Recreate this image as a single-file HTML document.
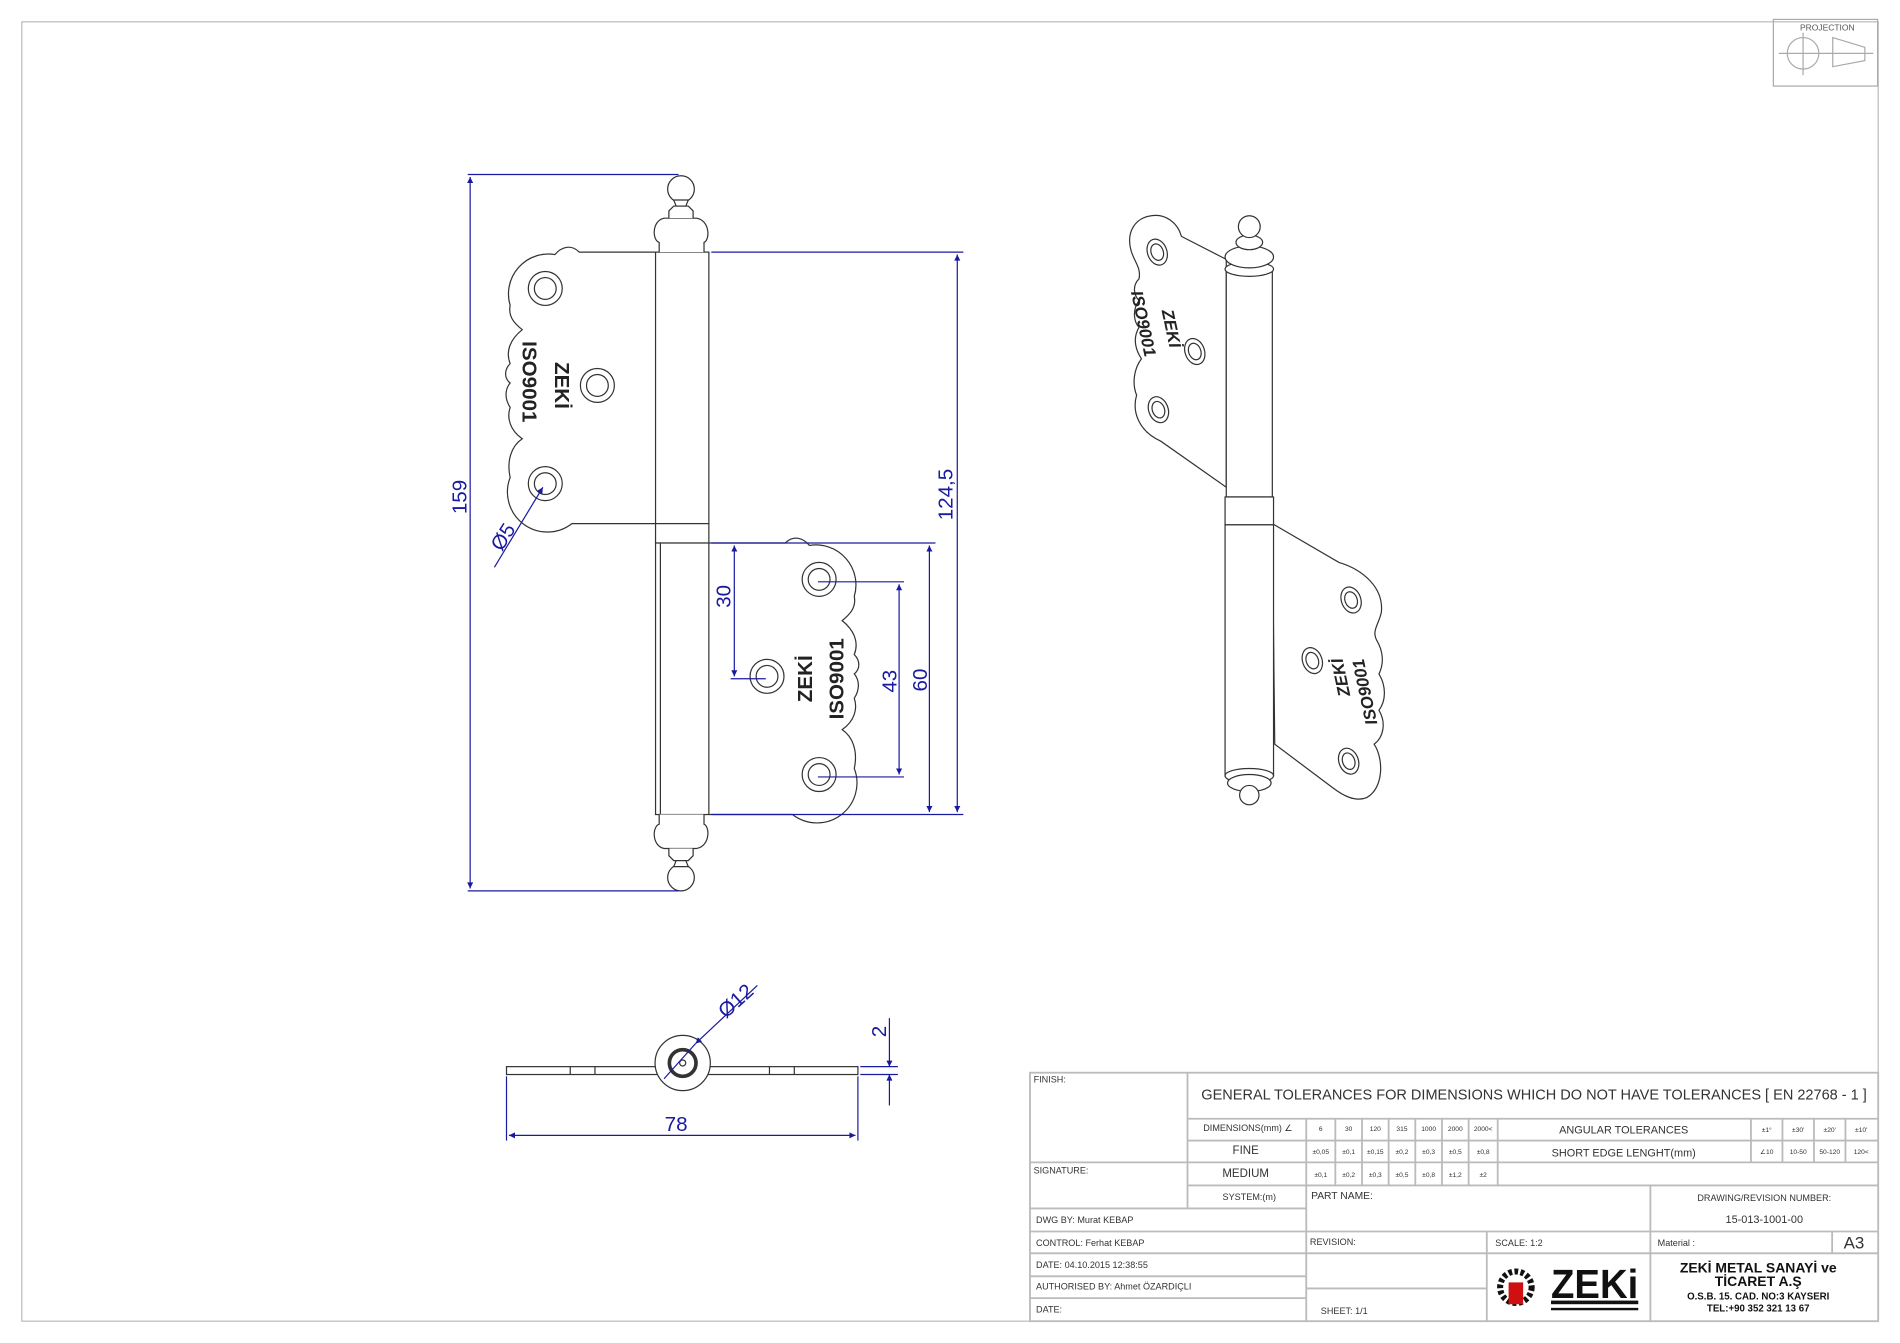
<!DOCTYPE html>
<html><head><meta charset="utf-8"><style>
html,body{margin:0;padding:0;background:#fff;}
svg{display:block;}
text{font-family:"Liberation Sans",sans-serif;}
</style></head><body>
<svg width="1900" height="1343" viewBox="0 0 1568 1108" preserveAspectRatio="none" xmlns="http://www.w3.org/2000/svg">
<defs>
<marker id="a" viewBox="0 0 10 10" refX="10" refY="5" markerWidth="9" markerHeight="5" orient="auto-start-reverse" markerUnits="userSpaceOnUse"><path d="M0,0 L10,5 L0,10 z" fill="#1a1aa0"/></marker>
<g id="leaf">
<path d="M541,208 L478,208 C471,201 463,204 458,210 A33,33 0 0 0 421,252 C419,262 426,268 431,272 C421,280 417,290 421,300 C416,305 416,312 421,316 C416,322 417,330 421,336 C418,345 421,355 431,362 C422,368 418,380 421,394 A33,33 0 0 0 472,432 L541,432" fill="#fff" stroke="#333" stroke-width="1"/>
<circle cx="450" cy="238" r="14" fill="none" stroke="#333"/><circle cx="450" cy="238" r="9" fill="none" stroke="#333"/>
<circle cx="493" cy="318" r="14" fill="none" stroke="#333"/><circle cx="493" cy="318" r="9" fill="none" stroke="#333"/>
<circle cx="450" cy="399" r="14" fill="none" stroke="#333"/><circle cx="450" cy="399" r="9" fill="none" stroke="#333"/>
</g>
</defs>
<rect x="0" y="0" width="1568" height="1108" fill="#fff"/>
<rect x="18" y="18" width="1532" height="1072" fill="none" stroke="#bbb" stroke-width="1"/>
<!-- projection -->
<rect x="1463.5" y="16" width="86" height="55" fill="none" stroke="#aaa"/>
<text x="1508" y="25" font-size="7" text-anchor="middle" fill="#555">PROJECTION</text>
<circle cx="1488" cy="44" r="13" fill="none" stroke="#aaa"/>
<line x1="1468" y1="44" x2="1509" y2="44" stroke="#aaa"/><line x1="1488" y1="27" x2="1488" y2="62" stroke="#aaa"/>
<path d="M1512.5,31 L1539,39 L1539,50 L1512.5,55 Z" fill="none" stroke="#aaa"/><line x1="1508" y1="44" x2="1546" y2="44" stroke="#aaa"/>

<!-- front view -->
<use href="#leaf"/>
<use href="#leaf" transform="translate(1126,240) scale(-1,1)"/>
<text transform="translate(431,315) rotate(90)" font-size="17" font-weight="bold" text-anchor="middle" fill="#222">ISO9001</text>
<text transform="translate(458,318) rotate(90)" font-size="17" font-weight="bold" text-anchor="middle" fill="#222">ZEKİ</text>
<text transform="translate(670,560) rotate(-90)" font-size="17" font-weight="bold" text-anchor="middle" fill="#222">ZEKİ</text>
<text transform="translate(696,560) rotate(-90)" font-size="17" font-weight="bold" text-anchor="middle" fill="#222">ISO9001</text>
<g fill="#fff" stroke="#333" stroke-width="1">
<rect x="541" y="208" width="44" height="224"/><rect x="541" y="432" width="44" height="16"/>
<rect x="541" y="448" width="44" height="224"/>
<path d="M544,208 L544,200 C538,198 538,182 548,180 L575,180 C586,182 586,198 581,200 L581,208"/>
<path d="M552,180 L552,174 L556,170 L568,170 L572,174 L572,180"/>
<ellipse cx="562" cy="156" rx="11" ry="11"/><path d="M556,165 L568,165 L566,170 L558,170Z"/>
<path d="M544,672 L544,680 C538,682 538,698 548,700 L575,700 C586,698 586,682 581,680 L581,672"/>
<path d="M552,700 L552,706 L556,710 L568,710 L572,706 L572,700"/>
<ellipse cx="562" cy="724" rx="11" ry="11"/><path d="M556,715 L568,715 L566,710 L558,710Z"/>
</g>
<line x1="545" y1="448" x2="545" y2="672" stroke="#333"/>
<!-- dims front -->
<g stroke="#1a1aa0" stroke-width="1" fill="none">
<line x1="386" y1="144" x2="560" y2="144"/><line x1="386" y1="735" x2="560" y2="735"/>
<line x1="388" y1="146" x2="388" y2="733" marker-start="url(#a)" marker-end="url(#a)"/>
<line x1="587" y1="208" x2="795" y2="208"/><line x1="587" y1="672" x2="795" y2="672"/>
<line x1="790" y1="210" x2="790" y2="670" marker-start="url(#a)" marker-end="url(#a)"/>
<line x1="587" y1="448" x2="772" y2="448"/>
<line x1="767" y1="450" x2="767" y2="670" marker-start="url(#a)" marker-end="url(#a)"/>
<line x1="675" y1="480" x2="746" y2="480"/><line x1="675" y1="641" x2="746" y2="641"/>
<line x1="742" y1="482" x2="742" y2="639" marker-start="url(#a)" marker-end="url(#a)"/>
<line x1="603" y1="560" x2="632" y2="560"/>
<line x1="606" y1="450" x2="606" y2="558" marker-start="url(#a)" marker-end="url(#a)"/>
<line x1="408" y1="468" x2="448" y2="402" marker-end="url(#a)"/>
</g>
<g fill="#1a1aa0" font-size="17" text-anchor="middle">
<text transform="translate(385,410) rotate(-90)">159</text>
<text transform="translate(786,408) rotate(-90)">124,5</text>
<text transform="translate(765,561) rotate(-90)">60</text>
<text transform="translate(740,562) rotate(-90)">43</text>
<text transform="translate(603,492) rotate(-90)">30</text>
<text transform="translate(420,446) rotate(-58)">Ø5</text>
</g>

<!-- side view -->
<g stroke="#333" fill="#fff" stroke-width="1">
<rect x="418" y="880" width="290" height="6.5"/>
<line x1="470.6" y1="880" x2="470.6" y2="886.5"/><line x1="491" y1="880" x2="491" y2="886.5"/>
<line x1="635" y1="880" x2="635" y2="886.5"/><line x1="655.5" y1="880" x2="655.5" y2="886.5"/>
<circle cx="563.4" cy="877" r="22.8"/>
<circle cx="563.4" cy="877" r="11" stroke-width="3" fill="none"/>
<circle cx="563.4" cy="877" r="2.5" fill="none"/>
</g>
<g stroke="#1a1aa0" fill="none">
<line x1="418" y1="888" x2="418" y2="941"/><line x1="708" y1="888" x2="708" y2="941"/>
<line x1="420" y1="936.7" x2="706" y2="936.7" marker-start="url(#a)" marker-end="url(#a)"/>
<line x1="710" y1="880" x2="741" y2="880"/><line x1="710" y1="886.5" x2="741" y2="886.5"/>
<line x1="734" y1="840" x2="734" y2="880" marker-end="url(#a)"/>
<line x1="734" y1="912" x2="734" y2="886.5" marker-end="url(#a)"/>
<line x1="625" y1="813" x2="574" y2="861" marker-end="url(#a)"/>
<line x1="574" y1="861" x2="548" y2="890"/>
</g>
<g fill="#1a1aa0" font-size="17" text-anchor="middle">
<text x="558" y="933">78</text>
<text transform="translate(731,851) rotate(-90)">2</text>
<text transform="translate(611,830) rotate(-42)">Ø12</text>
</g>

<!-- iso view -->
<g stroke="#333" fill="#fff" stroke-width="1">
<path d="M1012,214 L975,195 C972,184 962,176 950,178 C936,180 930,192 933,205 C935,215 942,220 940,230 C934,236 936,244 940,248 C934,256 936,266 940,270 C934,280 938,290 942,296 C936,304 934,316 938,326 C934,340 940,356 958,364 L1012,402 Z"/>
<ellipse cx="955" cy="208" rx="8" ry="11" transform="rotate(-20 955 208)"/><ellipse cx="955" cy="208" rx="5" ry="7" transform="rotate(-20 955 208)"/>
<ellipse cx="986" cy="290" rx="8" ry="11" transform="rotate(-20 986 290)"/><ellipse cx="986" cy="290" rx="5" ry="7" transform="rotate(-20 986 290)"/>
<ellipse cx="956" cy="338" rx="8" ry="11" transform="rotate(-20 956 338)"/><ellipse cx="956" cy="338" rx="5" ry="7" transform="rotate(-20 956 338)"/>
<path d="M1050,432 L1105,464 C1125,470 1142,485 1140,505 C1138,515 1132,520 1136,528 C1142,538 1142,548 1138,556 C1144,566 1144,578 1138,586 C1144,596 1142,608 1134,614 C1142,626 1142,650 1128,658 C1118,662 1108,656 1100,650 L1052,614 Z"/>
<ellipse cx="1115" cy="495" rx="8" ry="11" transform="rotate(-20 1115 495)"/><ellipse cx="1115" cy="495" rx="5" ry="7" transform="rotate(-20 1115 495)"/>
<ellipse cx="1083" cy="545" rx="8" ry="11" transform="rotate(-20 1083 545)"/><ellipse cx="1083" cy="545" rx="5" ry="7" transform="rotate(-20 1083 545)"/>
<ellipse cx="1113" cy="628" rx="8" ry="11" transform="rotate(-20 1113 628)"/><ellipse cx="1113" cy="628" rx="5" ry="7" transform="rotate(-20 1113 628)"/>
<rect x="1012" y="222" width="38" height="188"/>
<rect x="1011" y="410" width="40" height="23"/>
<rect x="1011" y="433" width="40" height="207"/>
<ellipse cx="1031" cy="222" rx="20" ry="6"/>
<ellipse cx="1031" cy="212" rx="20" ry="9"/>
<ellipse cx="1031" cy="200" rx="11" ry="6"/>
<circle cx="1031" cy="187" r="9"/>
<ellipse cx="1031" cy="640" rx="20" ry="6"/>
<ellipse cx="1031" cy="646" rx="18" ry="7"/>
<circle cx="1031" cy="656" r="8"/>
</g>
<g font-size="14" font-weight="bold" font-style="italic" fill="#222" text-anchor="middle">
<text transform="translate(939,268) rotate(78)">ISO9001</text>
<text transform="translate(962,272) rotate(78)">ZEKİ</text>
<text transform="translate(1111,558) rotate(-102)">ZEKİ</text>
<text transform="translate(1131,570) rotate(-102)">ISO9001</text>
</g>

<!-- title block -->
<g stroke="#bbb" stroke-width="1.5" fill="none">
<rect x="850" y="885" width="700" height="205"/>
<line x1="980" y1="885" x2="980" y2="997"/>
<line x1="980" y1="923" x2="1550" y2="923"/>
<line x1="980" y1="941" x2="1550" y2="941"/>
<line x1="850" y1="959" x2="1550" y2="959"/>
<line x1="980" y1="978" x2="1550" y2="978"/>
<line x1="850" y1="997" x2="1078" y2="997"/>
<line x1="1078" y1="923" x2="1078" y2="1090"/>
<line x1="850" y1="1016" x2="1550" y2="1016"/>
<line x1="850" y1="1034" x2="1550" y2="1034"/>
<line x1="850" y1="1053" x2="1078" y2="1053"/>
<line x1="850" y1="1071" x2="1078" y2="1071"/>
<line x1="1078" y1="1063" x2="1227" y2="1063"/>
<line x1="1362" y1="978" x2="1362" y2="1090"/>
<line x1="1227" y1="1016" x2="1227" y2="1090"/>
<line x1="1512" y1="1016" x2="1512" y2="1034"/>
<line x1="1102" y1="923" x2="1102" y2="978"/><line x1="1124" y1="923" x2="1124" y2="978"/>
<line x1="1146" y1="923" x2="1146" y2="978"/><line x1="1168" y1="923" x2="1168" y2="978"/>
<line x1="1190" y1="923" x2="1190" y2="978"/><line x1="1212" y1="923" x2="1212" y2="978"/>
<line x1="1236" y1="923" x2="1236" y2="978"/>
<line x1="1445" y1="923" x2="1445" y2="959"/><line x1="1471" y1="923" x2="1471" y2="959"/>
<line x1="1497" y1="923" x2="1497" y2="959"/><line x1="1523" y1="923" x2="1523" y2="959"/>
</g>
<g fill="#333" font-size="7.5">
<text x="853" y="893">FINISH:</text>
<text x="853" y="968">SIGNATURE:</text>
<text x="1266" y="907" font-size="12" text-anchor="middle">GENERAL TOLERANCES FOR DIMENSIONS WHICH DO NOT HAVE TOLERANCES [ EN 22768 - 1 ]</text>
<text x="993" y="933">DIMENSIONS(mm) ∠</text>
<text x="1028" y="952" font-size="9.5" text-anchor="middle">FINE</text>
<text x="1028" y="971" font-size="9.5" text-anchor="middle">MEDIUM</text>
<text x="1031" y="990" text-anchor="middle">SYSTEM:(m)</text>
<g font-size="5.5" text-anchor="middle">
<text x="1090" y="933">6</text><text x="1113" y="933">30</text><text x="1135" y="933">120</text><text x="1157" y="933">315</text><text x="1179" y="933">1000</text><text x="1201" y="933">2000</text><text x="1224" y="933">2000&lt;</text>
<text x="1090" y="952">±0,05</text><text x="1113" y="952">±0,1</text><text x="1135" y="952">±0,15</text><text x="1157" y="952">±0,2</text><text x="1179" y="952">±0,3</text><text x="1201" y="952">±0,5</text><text x="1224" y="952">±0,8</text>
<text x="1090" y="971">±0,1</text><text x="1113" y="971">±0,2</text><text x="1135" y="971">±0,3</text><text x="1157" y="971">±0,5</text><text x="1179" y="971">±0,8</text><text x="1201" y="971">±1,2</text><text x="1224" y="971">±2</text>
<text x="1458" y="934">±1°</text><text x="1484" y="934">±30'</text><text x="1510" y="934">±20'</text><text x="1536" y="934">±10'</text>
<text x="1458" y="952">∠10</text><text x="1484" y="952">10-50</text><text x="1510" y="952">50-120</text><text x="1536" y="952">120&lt;</text>
</g>
<text x="1340" y="935" font-size="9" text-anchor="middle">ANGULAR  TOLERANCES</text>
<text x="1340" y="954" font-size="9" text-anchor="middle">SHORT EDGE LENGHT(mm)</text>
<text x="1082" y="989" font-size="8.5">PART NAME:</text>
<text x="1456" y="991" text-anchor="middle">DRAWING/REVISION NUMBER:</text>
<text x="1456" y="1009" font-size="9" text-anchor="middle">15-013-1001-00</text>
<text x="855" y="1009">DWG BY:  Murat KEBAP</text>
<text x="855" y="1028">CONTROL:  Ferhat KEBAP</text>
<text x="855" y="1046">DATE: 04.10.2015 12:38:55</text>
<text x="855" y="1064">AUTHORISED BY: Ahmet ÖZARDIÇLI</text>
<text x="855" y="1083">DATE:</text>
<text x="1081" y="1027">REVISION:</text>
<text x="1234" y="1028">SCALE: 1:2</text>
<text x="1368" y="1028">Material :</text>
<text x="1530" y="1030" font-size="14" text-anchor="middle">A3</text>
<text x="1090" y="1084">SHEET: 1/1</text>
<g font-weight="bold" fill="#111" text-anchor="middle">
<text x="1451" y="1050" font-size="11.5">ZEKİ METAL SANAYİ ve</text>
<text x="1451" y="1061" font-size="11.5">TİCARET A.Ş</text>
<text x="1451" y="1072" font-size="8">O.S.B. 15. CAD. NO:3   KAYSERI</text>
<text x="1451" y="1082" font-size="8">TEL:+90 352 321 13 67</text>
</g>
</g>
<!-- logo -->
<circle cx="1251" cy="1062" r="13" fill="none" stroke="#111" stroke-width="5" stroke-dasharray="3 2"/>
<rect x="1245" y="1058" width="12" height="18" fill="#d01010"/>
<text x="1316" y="1071" font-size="34" font-weight="bold" fill="#111" text-anchor="middle" textLength="72" lengthAdjust="spacingAndGlyphs">ZEKi</text>
<rect x="1280" y="1073" width="72" height="3" fill="#111"/>
<rect x="1280" y="1079" width="72" height="2" fill="#111"/>
</svg>
</body></html>
